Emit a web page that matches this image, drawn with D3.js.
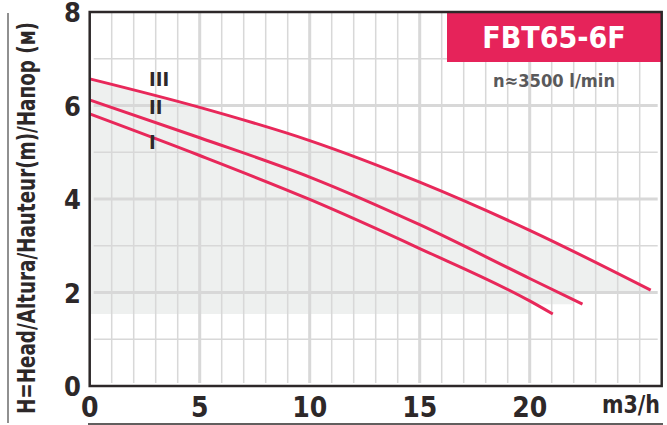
<!DOCTYPE html>
<html>
<head>
<meta charset="utf-8">
<script src="https://cdn.jsdelivr.net/npm/d3@7"></script>
<style>
  body { margin: 0; background: #fff; }
  text { font-family: "Liberation Sans Narrow", "DejaVu Sans Condensed", sans-serif; font-weight: bold; }
</style>
</head>
<body>
<script>
// curve data, flow (m3/h) vs head (m)
var qIII = [0, 5, 10, 15, 20, 25.5],
    hIII = [6.57, 5.96, 5.25, 4.36, 3.33, 2.05];
var qII = [0, 5, 10, 15, 20, 22.4],
    hII = [6.12, 5.31, 4.47, 3.45, 2.30, 1.75];
var qI = [0, 5, 10, 15, 20, 21.05],
    hI = [5.82, 4.93, 3.99, 2.94, 1.82, 1.54];

// shaded working area below curve III (right/bottom edge)
var shadeQ = [25.5, 25.5, 22, 22, 20, 20, 0],
    shadeH = [2.05, 2.0, 2.0, 1.75, 1.75, 1.54, 1.54];

var xTicks = [0, 5, 10, 15, 20],
    yTicks = [0, 2, 4, 6, 8];
var curveNames = ["III", "II", "I"];
var labelQ = [2.7, 2.7, 2.7],
    labelH = [6.42, 5.82, 5.07];

var width = 667,
    height = 425;

var svg = d3.select('body')
    .append('svg')
    .attr('width', width)
    .attr('height', height);

var x = d3.scaleLinear().domain([0, 26]).range([89.7, 661.7]);
var y = d3.scaleLinear().domain([0, 8]).range([386, 12]);

function pts(q, h) {
  return q.map(function(d, i) { return [d, h[i]]; });
}

var curveLine = d3.line()
    .x(function(d) { return x(d[0]); })
    .y(function(d) { return y(d[1]); })
    .curve(d3.curveMonotoneX);
var stepLine = d3.line()
    .x(function(d) { return x(d[0]); })
    .y(function(d) { return y(d[1]); });

// shade
svg.append("path")
    .attr("d", curveLine(pts(qIII, hIII)) + stepLine(pts(shadeQ, shadeH)).replace("M", "L") + "Z")
    .attr("fill", "#eef0ef");

// grid
svg.append("g")
  .selectAll("line")
  .data(d3.range(1, 26))
  .enter().append("line")
    .attr("x1", function(d) { return x(d); })
    .attr("x2", function(d) { return x(d); })
    .attr("y1", y(8))
    .attr("y2", y(0) - 3)
    .attr("stroke", "#d8d8d8")
    .attr("stroke-width", function(d) { return (d % 5 == 0 && d < 25) ? 3 : 1.5; });

svg.append("g")
  .selectAll("line")
  .data(d3.range(1, 8))
  .enter().append("line")
    .attr("x1", x(0) + 4)
    .attr("x2", x(26) - 4)
    .attr("y1", function(d) { return y(d); })
    .attr("y2", function(d) { return y(d); })
    .attr("stroke", "#d8d8d8")
    .attr("stroke-width", function(d) { return d % 2 == 0 ? 3 : 1.5; });

// curves
[[qIII, hIII], [qII, hII], [qI, hI]].forEach(function(c) {
  svg.append("path")
      .attr("d", curveLine(pts(c[0], c[1])))
      .attr("fill", "none")
      .attr("stroke", "#e8285a")
      .attr("stroke-width", 3);
});

svg.append("g")
  .selectAll("text")
  .data(curveNames)
  .enter().append("text")
    .attr("x", function(d, i) { return x(labelQ[i]); })
    .attr("y", function(d, i) { return y(labelH[i]); })
    .attr("font-size", 20)
    .attr("fill", "#2d2829")
    .text(function(d) { return d; });

// title box
svg.append("rect")
    .attr("x", 447).attr("y", y(8))
    .attr("width", x(26) - 447).attr("height", 50)
    .attr("fill", "#e6235a");
svg.append("text")
    .attr("x", 554).attr("y", 48)
    .attr("text-anchor", "middle")
    .attr("font-size", 30)
    .attr("fill", "#fff")
    .text("FBT65-6F");
svg.append("text")
    .attr("x", 554).attr("y", 87)
    .attr("text-anchor", "middle")
    .attr("font-size", 18)
    .attr("textLength", 122)
    .attr("lengthAdjust", "spacingAndGlyphs")
    .attr("fill", "#59595b")
    .text("n≈3500 l/min");

// frame
svg.append("rect")
    .attr("x", x(0)).attr("y", y(8))
    .attr("width", x(26) - x(0)).attr("height", y(0) - y(8))
    .attr("fill", "none")
    .attr("stroke", "#2d2829")
    .attr("stroke-width", 2.5);

// tick labels
svg.append("g")
  .selectAll("text")
  .data(xTicks)
  .enter().append("text")
    .attr("x", function(d) { return x(d); })
    .attr("y", 417)
    .attr("text-anchor", "middle")
    .attr("font-size", 28)
    .attr("fill", "#2d2829")
    .text(function(d) { return d; });

svg.append("g")
  .selectAll("text")
  .data(yTicks)
  .enter().append("text")
    .attr("x", 81)
    .attr("y", function(d) { return y(d) + 10; })
    .attr("text-anchor", "end")
    .attr("font-size", 27)
    .attr("fill", "#2d2829")
    .text(function(d) { return d; });

svg.append("text")
    .attr("x", 660).attr("y", 413)
    .attr("text-anchor", "end")
    .attr("font-size", 25)
    .attr("textLength", 58)
    .attr("lengthAdjust", "spacingAndGlyphs")
    .attr("fill", "#2d2829")
    .text("m3/h");

svg.append("text")
    .attr("transform", "translate(35,218) rotate(-90)")
    .attr("text-anchor", "middle")
    .attr("font-size", 25)
    .attr("textLength", 392)
    .attr("lengthAdjust", "spacingAndGlyphs")
    .attr("fill", "#2d2829")
    .text("H=Head/Altura/Hauteur(m)/Напор (м)");

// outer lines
svg.append("line")
    .attr("x1", 8).attr("x2", 8).attr("y1", 13).attr("y2", 423)
    .attr("stroke", "#6b6b6b").attr("stroke-width", 1.5);
svg.append("line")
    .attr("x1", 88).attr("x2", 663).attr("y1", 424).attr("y2", 424)
    .attr("stroke", "#2d2829").attr("stroke-width", 1.5);
</script>
</body>
</html>
